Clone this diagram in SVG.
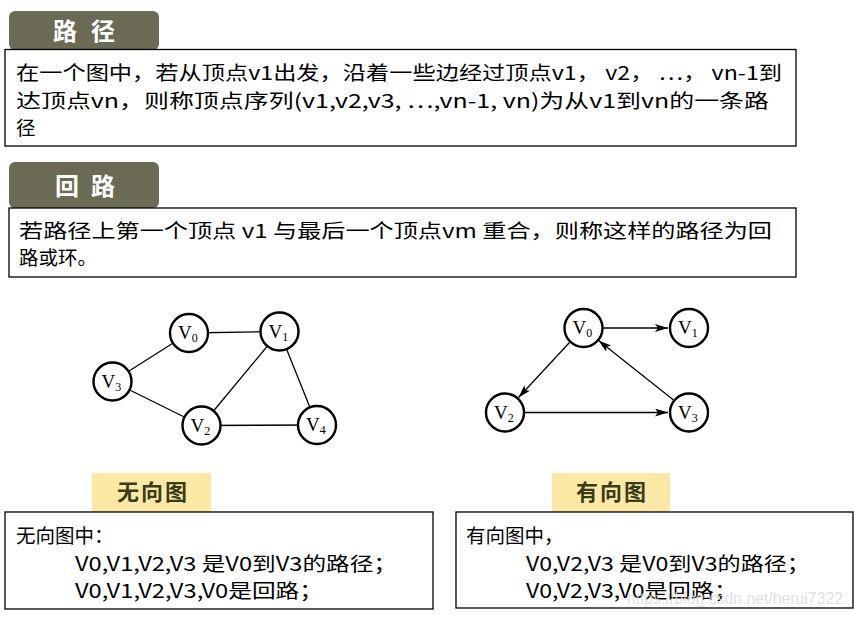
<svg xmlns="http://www.w3.org/2000/svg" width="854" height="618" viewBox="0 0 854 618">
<style>
.hdr{fill:#6b6b55}
.hdrt{fill:#ffffff;font-family:"Noto Sans CJK SC",sans-serif;font-weight:bold;font-size:24px}
.box{fill:#ffffff;stroke:#000;stroke-width:1.3}
.body{fill:#000;font-family:"Noto Sans CJK SC",sans-serif;font-size:19.5px}
.tag{fill:#fde9a6}
.tagt{fill:#3b3b1c;font-family:"Noto Sans CJK SC",sans-serif;font-weight:bold;font-size:22px}
.node{fill:#fff;stroke:#000;stroke-width:2.4}
.lbl{font-family:"Liberation Serif",serif;font-size:19px;fill:#000}
.sub{font-size:12px}
.edge{stroke:#000;stroke-width:1.3;fill:none}
.arr{stroke:#000;stroke-width:1.3;fill:none;marker-end:url(#ah)}
</style>
<defs>
<marker id="ah" markerUnits="userSpaceOnUse" markerWidth="14" markerHeight="10" refX="13" refY="4" orient="auto">
<path d="M0,0 L13,4 L0,8 L3,4 z" fill="#000"/>
</marker>
</defs>
<rect width="854" height="618" fill="#fff"/>

<g id="path-header">
<rect class="hdr" x="9" y="11" width="150" height="39" rx="6"/>
<text class="hdrt" x="53" y="40" textLength="62" lengthAdjust="spacing">路径</text>
</g>
<g id="path-def">
<rect class="box" x="5" y="49.5" width="791" height="96.5"/>
<text class="body" x="16" y="80" textLength="766" lengthAdjust="spacingAndGlyphs">在一个图中，若从顶点v1出发，沿着一些边经过顶点v1， v2， ⋯， vn-1到</text>
<text class="body" x="16" y="108" textLength="753" lengthAdjust="spacingAndGlyphs">达顶点vn，则称顶点序列(v1,v2,v3, ⋯,vn-1, vn)为从v1到vn的一条路</text>
<text class="body" x="16" y="135">径</text>
</g>

<g id="loop-header">
<rect class="hdr" x="9" y="162" width="150" height="46" rx="6"/>
<text class="hdrt" x="55" y="195" textLength="60" lengthAdjust="spacing">回路</text>
</g>
<g id="loop-def">
<rect class="box" x="9" y="208" width="787" height="69"/>
<text class="body" x="19" y="238" textLength="753" lengthAdjust="spacingAndGlyphs">若路径上第一个顶点 v1 与最后一个顶点vm 重合，则称这样的路径为回</text>
<text class="body" x="19" y="265">路或环。</text>
</g>

<g id="undirected-edges">
<line class="edge" x1="189" y1="333" x2="279.5" y2="331.5"/>
<line class="edge" x1="189" y1="333" x2="112.5" y2="381.5"/>
<line class="edge" x1="112.5" y1="381.5" x2="201.5" y2="425.5"/>
<line class="edge" x1="201.5" y1="425.5" x2="279.5" y2="331.5"/>
<line class="edge" x1="279.5" y1="331.5" x2="317" y2="425"/>
<line class="edge" x1="201.5" y1="425.5" x2="317" y2="425"/>
</g>
<g id="u-v0"><circle class="node" cx="189" cy="333" r="19"/><text class="lbl" x="178" y="339">V<tspan class="sub" dy="3">0</tspan></text></g>
<g id="u-v1"><circle class="node" cx="279.5" cy="331.5" r="19"/><text class="lbl" x="268.5" y="337.5">V<tspan class="sub" dy="3">1</tspan></text></g>
<g id="u-v3"><circle class="node" cx="112.5" cy="381.5" r="19"/><text class="lbl" x="101.5" y="387.5">V<tspan class="sub" dy="3">3</tspan></text></g>
<g id="u-v2"><circle class="node" cx="201.5" cy="425.5" r="19"/><text class="lbl" x="190.5" y="431.5">V<tspan class="sub" dy="3">2</tspan></text></g>
<g id="u-v4"><circle class="node" cx="317" cy="425" r="19"/><text class="lbl" x="306" y="431">V<tspan class="sub" dy="3">4</tspan></text></g>

<g id="directed-edges">
<line class="arr" x1="603" y1="328" x2="668" y2="328"/>
<line class="arr" x1="569.5" y1="342.5" x2="518.5" y2="397.5"/>
<line class="arr" x1="525" y1="412.5" x2="668" y2="412.5"/>
<line class="arr" x1="673.5" y1="400" x2="598.5" y2="340.5"/>
</g>
<g id="d-v0"><circle class="node" cx="583.5" cy="328" r="19"/><text class="lbl" x="572.5" y="334">V<tspan class="sub" dy="3">0</tspan></text></g>
<g id="d-v1"><circle class="node" cx="689" cy="328" r="19"/><text class="lbl" x="678" y="334">V<tspan class="sub" dy="3">1</tspan></text></g>
<g id="d-v2"><circle class="node" cx="505" cy="412.5" r="19"/><text class="lbl" x="494" y="418.5">V<tspan class="sub" dy="3">2</tspan></text></g>
<g id="d-v3"><circle class="node" cx="689" cy="412.5" r="19"/><text class="lbl" x="678" y="418.5">V<tspan class="sub" dy="3">3</tspan></text></g>

<g id="undirected-tag">
<rect class="tag" x="92" y="473" width="119" height="39"/>
<text class="tagt" x="117" y="500" textLength="70" lengthAdjust="spacing">无向图</text>
</g>
<g id="undirected-note">
<rect class="box" x="5" y="512" width="428" height="97"/>
<text class="body" x="16" y="543">无向图中：</text>
<text class="body" x="75" y="571" textLength="322" lengthAdjust="spacingAndGlyphs">V0,V1,V2,V3  是V0到V3的路径；</text>
<text class="body" x="75" y="598" textLength="248" lengthAdjust="spacingAndGlyphs">V0,V1,V2,V3,V0是回路；</text>
</g>

<g id="directed-tag">
<rect class="tag" x="552" y="473" width="118" height="39"/>
<text class="tagt" x="576" y="500" textLength="70" lengthAdjust="spacing">有向图</text>
</g>
<g id="directed-note">
<rect class="box" x="456" y="512" width="397" height="96"/>
<text class="body" x="466" y="543">有向图中，</text>
<text class="body" x="526" y="571" textLength="284" lengthAdjust="spacingAndGlyphs">V0,V2,V3  是V0到V3的路径；</text>
<text class="body" x="526" y="598" textLength="211" lengthAdjust="spacingAndGlyphs">V0,V2,V3,V0是回路；</text>
</g>

<text x="627" y="604" textLength="216" lengthAdjust="spacingAndGlyphs" font-family="Liberation Sans, sans-serif" font-size="16" fill="#d8d8d8" fill-opacity="0.8">https://blog.csdn.net/herui7322</text>
</svg>
